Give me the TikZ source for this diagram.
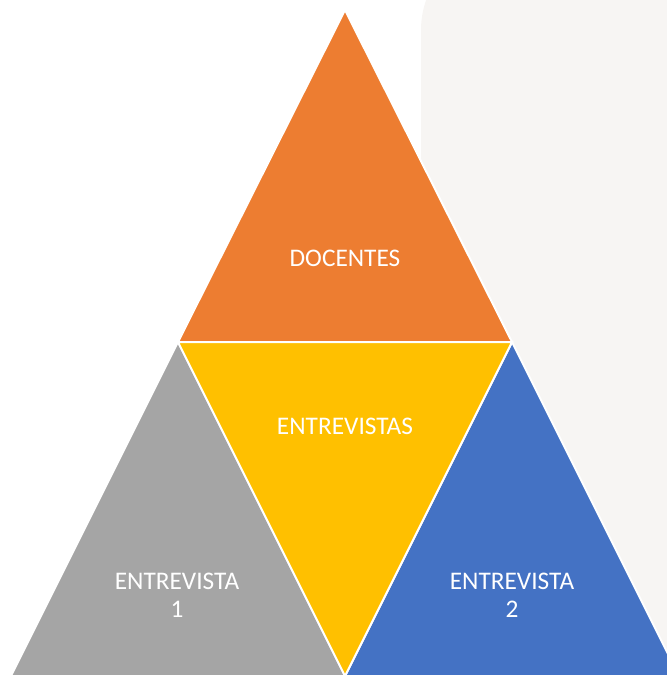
\documentclass[tikz,border=0pt]{standalone}
\usepackage{fontspec}
\setmainfont{Carlito}
\definecolor{docorange}{HTML}{ED7D31}
\definecolor{entyellow}{HTML}{FFC000}
\definecolor{entgray}{HTML}{A5A5A5}
\definecolor{entblue}{HTML}{4472C4}
\definecolor{bggray}{HTML}{F7F5F3}
\begin{document}
\begin{tikzpicture}[x=0.75pt, y=-0.75pt, tri/.style={draw=white,line width=1.5pt,line join=miter},main node/.style={text=white,align=center,font=\fontsize{19}{21}\selectfont}]
\useasboundingbox (0,0) rectangle (667,675);
\clip (0,0) rectangle (667,675);
\fill[bggray, rounded corners=67.5pt] (421,-60) rectangle (760,760);
%corners
\coordinate (top) at (345,10);
\coordinate (ml) at (178,342);
\coordinate (mr) at (512,342);
\coordinate (bl) at (11,676);
\coordinate (bm) at (345,676);
\coordinate (br) at (679,676);
\begin{scope}
\filldraw[tri, fill=docorange] (top) -- (ml) -- (mr) -- cycle;
\filldraw[tri, fill=entgray] (ml) -- (bl) -- (bm) -- cycle;
\filldraw[tri, fill=entblue] (mr) -- (bm) -- (br) -- cycle;
\filldraw[tri, fill=entyellow] (ml) -- (mr) -- (bm) -- cycle;
\end{scope}
\begin{scope}
\node[main node] (doc) at (345,258) {DOCENTES};
\node[main node] (ent) at (345,426) {ENTREVISTAS};
\node[main node] (e1) at (177,595) {ENTREVISTA\\1};
\node[main node] (e2) at (512,595) {ENTREVISTA\\2};
\end{scope}
\end{tikzpicture}
\end{document}
